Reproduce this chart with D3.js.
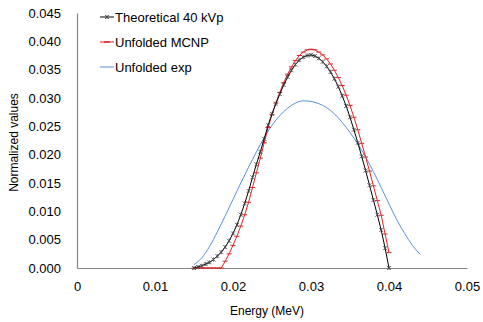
<!DOCTYPE html>
<html>
<head>
<meta charset="utf-8">
<script src="https://cdn.jsdelivr.net/npm/d3@7"></script>
<style>
  body { margin: 0; background: #fff; }
  svg { font-family: "Liberation Sans", Arial, sans-serif; }
</style>
</head>
<body>
<div id="chart"></div>
<script>
// energies (MeV) of the theoretical and MCNP spectra, 0.0005 MeV steps
var energyFine = [
  0.0150, 0.0155, 0.0160, 0.0165, 0.0170, 0.0175, 0.0180, 0.0185, 0.0190, 0.0195,
  0.0200, 0.0205, 0.0210, 0.0215, 0.0220, 0.0225, 0.0230, 0.0235, 0.0240, 0.0245,
  0.0250, 0.0255, 0.0260, 0.0265, 0.0270, 0.0275, 0.0280, 0.0285, 0.0290, 0.0295,
  0.0300, 0.0305, 0.0310, 0.0315, 0.0320, 0.0325, 0.0330, 0.0335, 0.0340, 0.0345,
  0.0350, 0.0355, 0.0360, 0.0365, 0.0370, 0.0375, 0.0380, 0.0385, 0.0390, 0.0395,
  0.0400
];
var theoretical = [
  0.0000, 0.0002, 0.0004, 0.0007, 0.0010, 0.0015, 0.0021, 0.0028, 0.0037, 0.0048,
  0.0061, 0.0076, 0.0094, 0.0114, 0.0136, 0.0160, 0.0183, 0.0205, 0.0228, 0.0252,
  0.0272, 0.0290, 0.0307, 0.0323, 0.0337, 0.0349, 0.0359, 0.0367, 0.0372, 0.0375,
  0.0376, 0.0374, 0.0370, 0.0364, 0.0356, 0.0346, 0.0334, 0.0320, 0.0304, 0.0286,
  0.0266, 0.0244, 0.0221, 0.0197, 0.0172, 0.0146, 0.0120, 0.0094, 0.0067, 0.0035,
  0.0000
];
var unfoldedMCNP = [
  0.0000, 0.0000, 0.0000, 0.0000, 0.0000, 0.0000, 0.0000, 0.0000, 0.0012, 0.0025,
  0.0040, 0.0056, 0.0074, 0.0094, 0.0116, 0.0142, 0.0168, 0.0194, 0.0221, 0.0248,
  0.0271, 0.0291, 0.0310, 0.0327, 0.0342, 0.0355, 0.0366, 0.0375, 0.0381, 0.0385,
  0.0386, 0.0385, 0.0381, 0.0376, 0.0369, 0.0360, 0.0349, 0.0336, 0.0322, 0.0305,
  0.0287, 0.0266, 0.0244, 0.0220, 0.0196, 0.0171, 0.0145, 0.0119, 0.0093, 0.0060,
  0.0027
];
// experimental unfolding, 0.001 MeV steps
var energyExp = [
  0.015, 0.016, 0.017, 0.018, 0.019, 0.020, 0.021, 0.022, 0.023, 0.024,
  0.025, 0.026, 0.027, 0.028, 0.029, 0.030, 0.031, 0.032, 0.033, 0.034,
  0.035, 0.036, 0.037, 0.038, 0.039, 0.040, 0.041, 0.042, 0.043, 0.044
];
var unfoldedExp = [
  0.0006, 0.0018, 0.0038, 0.0064, 0.0092, 0.0121, 0.0150, 0.0178, 0.0205, 0.0230,
  0.0252, 0.0269, 0.0282, 0.0291, 0.0295, 0.0294, 0.0290, 0.0283, 0.0272, 0.0257,
  0.0239, 0.0219, 0.0196, 0.0170, 0.0142, 0.0113, 0.0085, 0.0061, 0.0040, 0.0024
];
var xTicks = [0, 0.01, 0.02, 0.03, 0.04, 0.05];
var yTicks = [0, 0.005, 0.01, 0.015, 0.02, 0.025, 0.03, 0.035, 0.04, 0.045];
var seriesNames = ["Theoretical 40 kVp", "Unfolded MCNP", "Unfolded exp"];
var seriesColors = ["#000000", "#e0262a", "#5b8fd8"];

var width = 483, height = 322;
var margin = { top: 13, right: 16, bottom: 54, left: 77 };
var w = width - margin.left - margin.right,
    h = height - margin.top - margin.bottom;

var svg = d3.select("#chart").append("svg")
  .attr("width", width)
  .attr("height", height);
var g = svg.append("g")
  .attr("transform", "translate(" + margin.left + "," + margin.top + ")");

var x = d3.scaleLinear().domain([0, 0.05]).range([0, w]);
var y = d3.scaleLinear().domain([0, 0.045]).range([h, 0]);

// axes
var xAxis = g.append("g")
  .attr("transform", "translate(0," + h + ")")
  .call(d3.axisBottom(x).tickValues(xTicks).tickSize(0).tickPadding(14)
    .tickFormat(function (d) { return d === 0 ? "0" : d3.format(".2f")(d).replace(/0$/, ""); }));
var yAxis = g.append("g")
  .call(d3.axisLeft(y).tickValues(yTicks).tickSize(0).tickPadding(16)
    .tickFormat(d3.format(".3f")));
[xAxis, yAxis].forEach(function (a) {
  a.select(".domain").attr("stroke", "#868686").attr("stroke-width", 1.2);
  a.selectAll("text").attr("font-size", 13).attr("fill", "#000");
});

// axis titles
svg.append("text")
  .attr("x", margin.left + x(0.025) - 5)
  .attr("y", 315)
  .attr("text-anchor", "middle")
  .attr("font-size", 12)
  .text("Energy (MeV)");
svg.append("text")
  .attr("transform", "translate(18," + (margin.top + h / 2 + 2) + ") rotate(-90)")
  .attr("text-anchor", "middle")
  .attr("font-size", 12)
  .text("Normalized values");

function lineOf(xs) {
  return d3.line()
    .x(function (d, i) { return x(xs[i]); })
    .y(function (d) { return y(d); });
}

// experimental (smooth, no markers)
g.append("path")
  .datum(unfoldedExp)
  .attr("fill", "none")
  .attr("stroke", seriesColors[2])
  .attr("stroke-width", 1)
  .attr("d", lineOf(energyExp).curve(d3.curveMonotoneX));

// MCNP with dash markers
g.append("path")
  .datum(unfoldedMCNP)
  .attr("fill", "none")
  .attr("stroke", seriesColors[1])
  .attr("stroke-width", 1)
  .attr("d", lineOf(energyFine));
g.selectAll(".mdash")
  .data(unfoldedMCNP)
  .enter().append("line")
  .attr("class", "mdash")
  .attr("x1", function (d, i) { return x(energyFine[i]) - 2.5; })
  .attr("x2", function (d, i) { return x(energyFine[i]) + 2.5; })
  .attr("y1", function (d) { return y(d); })
  .attr("y2", function (d) { return y(d); })
  .attr("stroke", seriesColors[1])
  .attr("stroke-width", 1);

// theoretical with star markers
g.append("path")
  .datum(theoretical)
  .attr("fill", "none")
  .attr("stroke", seriesColors[0])
  .attr("stroke-width", 1)
  .attr("d", lineOf(energyFine));

function star(sel, cx, cy, color) {
  var s = 2;
  sel.append("path")
    .attr("d", "M" + (cx - s) + "," + (cy - s) + "L" + (cx + s) + "," + (cy + s) +
      "M" + (cx - s) + "," + (cy + s) + "L" + (cx + s) + "," + (cy - s) +
      "M" + cx + "," + (cy - s) + "L" + cx + "," + (cy + s))
    .attr("stroke", color)
    .attr("stroke-width", 0.8)
    .attr("fill", "none");
}
var stars = g.append("g");
theoretical.forEach(function (d, i) {
  star(stars, x(energyFine[i]), y(d), "#444");
});

// legend
var legend = svg.append("g").attr("transform", "translate(100,17)");
seriesNames.forEach(function (name, i) {
  var row = legend.append("g").attr("transform", "translate(0," + (i * 25) + ")");
  row.append("line")
    .attr("x1", 0).attr("x2", 14).attr("y1", 0).attr("y2", 0)
    .attr("stroke", seriesColors[i]).attr("stroke-width", 1);
  if (i === 0) star(row, 7, 0, "#444");
  if (i === 1) row.append("line").attr("x1", 4).attr("x2", 10)
    .attr("stroke", seriesColors[1]).attr("stroke-width", 1.5);
  row.append("text")
    .attr("x", 15).attr("y", 0).attr("dy", "0.35em")
    .attr("font-size", 13)
    .text(name);
});
</script>
</body>
</html>
